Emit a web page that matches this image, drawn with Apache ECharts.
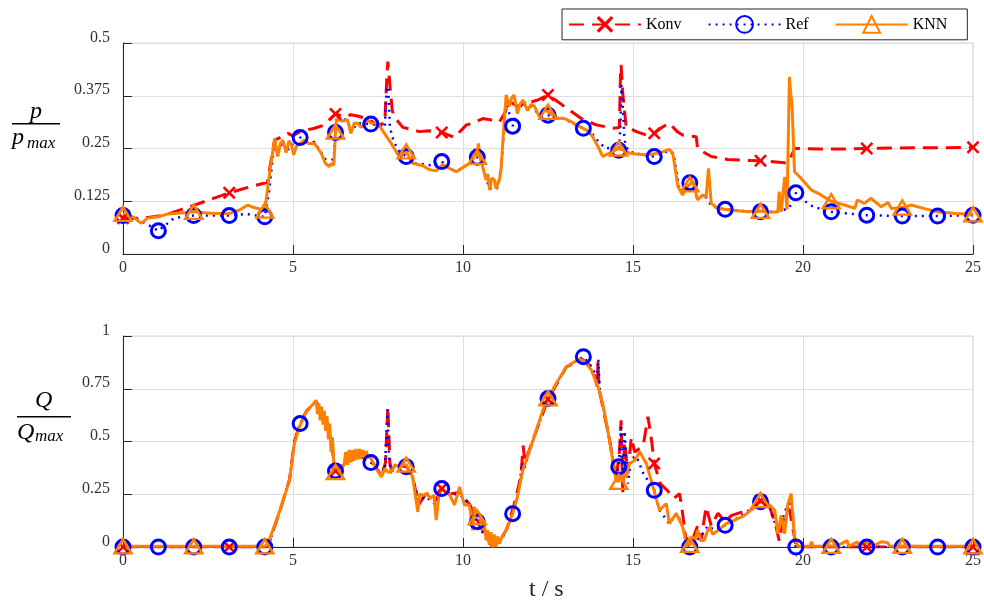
<!DOCTYPE html>
<html><head><meta charset="utf-8">
<script src="https://cdn.jsdelivr.net/npm/echarts@6/dist/echarts.min.js"></script>
<style>html,body{margin:0;padding:0;background:#fff}#c{width:984px;height:605px}</style>
</head><body><div id="c"></div>
<script>
// ---- ticks ----
const tTicks = [0, 5, 10, 15, 20, 25];
const pTicks = [0, 0.125, 0.25, 0.375, 0.5];
const qTicks = [0, 0.25, 0.5, 0.75, 1];
const seriesNames = ['Konv', 'Ref', 'KNN'];

// ---- marker times ----
const konvMarkT = [0, 3.125, 6.25, 9.375, 12.5, 15.625, 18.75, 21.875, 25];
const refMarkT = [0, 1.04, 2.08, 3.125, 4.17, 5.21, 6.25, 7.29, 8.33, 9.375, 10.42, 11.46, 12.5, 13.54, 14.58, 15.625, 16.67, 17.71, 18.75, 19.79, 20.83, 21.875, 22.92, 23.96, 25];
const knnMarkT = [0, 2.08, 4.17, 6.25, 8.33, 10.42, 12.5, 14.58, 16.67, 18.75, 20.83, 22.92, 25];

// ---- p / pmax ----
const konvP = [[0,0.085],[0.6,0.085],[1.22,0.092],[1.7,0.105],[2.1,0.116],[2.6,0.13],[3.125,0.145],[3.6,0.156],[4.06,0.166],[4.25,0.17],[4.35,0.22],[4.46,0.27],[4.6,0.275],[4.85,0.286],[5.0,0.28],[5.2,0.29],[5.63,0.298],[5.9,0.305],[6.25,0.332],[6.5,0.325],[6.7,0.33],[6.9,0.327],[7.2,0.32],[7.5,0.305],[7.7,0.31],[7.76,0.42],[7.79,0.456],[7.85,0.4],[7.92,0.34],[7.98,0.325],[8.23,0.3],[8.72,0.29],[9.0,0.292],[9.375,0.288],[9.75,0.276],[10.1,0.306],[10.3,0.31],[10.58,0.321],[10.8,0.318],[11.07,0.313],[11.2,0.33],[11.37,0.361],[11.6,0.35],[11.86,0.357],[12.2,0.365],[12.5,0.377],[12.8,0.36],[13.13,0.341],[13.5,0.32],[13.92,0.306],[14.41,0.298],[14.6,0.3],[14.63,0.42],[14.65,0.448],[14.7,0.38],[14.8,0.3],[14.9,0.298],[15.1,0.29],[15.39,0.282],[15.625,0.286],[15.85,0.3],[16.07,0.31],[16.3,0.29],[16.46,0.282],[16.86,0.278],[16.9,0.25],[17.0,0.245],[17.3,0.231],[17.79,0.224],[18.3,0.222],[18.75,0.221],[19.2,0.218],[19.46,0.216],[19.6,0.22],[19.75,0.25],[20.5,0.249],[21.2,0.249],[21.875,0.25],[22.6,0.251],[23.3,0.252],[24.2,0.252],[25,0.253]];
const refP = [[0,0.091],[0.5,0.08],[1.04,0.055],[1.5,0.085],[2.08,0.091],[2.6,0.091],[3.125,0.091],[3.6,0.095],[4.17,0.088],[4.3,0.15],[4.46,0.27],[4.55,0.235],[4.7,0.268],[4.8,0.24],[4.95,0.26],[5.1,0.255],[5.21,0.276],[5.4,0.27],[5.63,0.265],[5.83,0.24],[6.07,0.21],[6.2,0.23],[6.25,0.288],[6.3,0.32],[6.6,0.318],[6.7,0.29],[6.9,0.31],[7.29,0.308],[7.5,0.305],[7.7,0.3],[7.75,0.39],[7.8,0.397],[7.85,0.3],[7.95,0.27],[8.1,0.245],[8.33,0.231],[8.6,0.215],[8.9,0.212],[9.1,0.21],[9.375,0.219],[9.6,0.203],[9.8,0.195],[10.04,0.207],[10.29,0.223],[10.42,0.229],[10.6,0.2],[10.78,0.155],[11.0,0.155],[11.12,0.2],[11.27,0.36],[11.46,0.303],[11.6,0.335],[11.76,0.36],[12.0,0.35],[12.25,0.33],[12.5,0.329],[12.8,0.325],[13.1,0.315],[13.54,0.298],[13.8,0.285],[14.0,0.265],[14.2,0.25],[14.4,0.252],[14.58,0.246],[14.63,0.3],[14.66,0.4],[14.7,0.35],[14.75,0.27],[14.85,0.245],[15.0,0.24],[15.3,0.235],[15.625,0.231],[15.9,0.24],[16.07,0.245],[16.2,0.235],[16.35,0.16],[16.5,0.145],[16.67,0.169],[16.9,0.13],[17.1,0.14],[17.3,0.115],[17.5,0.108],[17.71,0.106],[18.2,0.102],[18.75,0.1],[19.2,0.1],[19.4,0.103],[19.6,0.11],[19.79,0.145],[20.0,0.128],[20.3,0.112],[20.83,0.1],[21.3,0.096],[21.875,0.092],[22.4,0.091],[22.92,0.09],[23.5,0.09],[23.96,0.09],[24.5,0.091],[25,0.092]];
const knnP = [[0,0.095],[0.3,0.088],[0.53,0.073],[0.73,0.085],[1.04,0.088],[1.32,0.095],[1.7,0.097],[2.08,0.1],[2.4,0.098],[2.69,0.096],[3.13,0.096],[3.4,0.103],[3.67,0.116],[3.85,0.11],[3.96,0.108],[4.17,0.103],[4.31,0.19],[4.46,0.274],[4.55,0.231],[4.63,0.262],[4.7,0.27],[4.8,0.24],[4.88,0.268],[4.95,0.26],[5.02,0.235],[5.1,0.255],[5.21,0.262],[5.34,0.27],[5.45,0.262],[5.63,0.262],[5.83,0.239],[5.95,0.215],[6.07,0.207],[6.15,0.215],[6.2,0.21],[6.25,0.29],[6.28,0.321],[6.45,0.315],[6.61,0.318],[6.7,0.286],[6.8,0.31],[6.9,0.31],[7.0,0.3],[7.2,0.318],[7.29,0.31],[7.49,0.31],[7.69,0.286],[7.89,0.262],[8.05,0.24],[8.18,0.227],[8.23,0.239],[8.33,0.243],[8.52,0.215],[8.82,0.209],[9.0,0.2],[9.21,0.197],[9.4,0.212],[9.6,0.203],[9.8,0.195],[10.04,0.207],[10.2,0.215],[10.29,0.223],[10.35,0.25],[10.42,0.23],[10.45,0.262],[10.52,0.223],[10.6,0.2],[10.68,0.175],[10.73,0.19],[10.78,0.152],[10.85,0.18],[10.93,0.175],[10.97,0.155],[11.02,0.152],[11.07,0.175],[11.12,0.203],[11.2,0.3],[11.27,0.377],[11.36,0.35],[11.43,0.37],[11.5,0.377],[11.6,0.333],[11.68,0.355],[11.76,0.365],[11.9,0.34],[12.0,0.355],[12.1,0.35],[12.25,0.325],[12.37,0.345],[12.5,0.337],[12.62,0.33],[12.74,0.322],[12.99,0.321],[13.15,0.315],[13.33,0.306],[13.62,0.294],[13.8,0.28],[13.92,0.262],[14.0,0.25],[14.11,0.231],[14.31,0.239],[14.45,0.245],[14.58,0.25],[14.75,0.245],[14.9,0.239],[15.1,0.237],[15.29,0.235],[15.5,0.236],[15.73,0.239],[15.9,0.243],[16.07,0.248],[16.17,0.239],[16.32,0.16],[16.46,0.14],[16.6,0.16],[16.67,0.165],[16.76,0.173],[16.9,0.128],[17.05,0.14],[17.15,0.135],[17.22,0.203],[17.3,0.12],[17.5,0.108],[17.99,0.103],[18.4,0.1],[18.75,0.102],[19.0,0.099],[19.26,0.1],[19.3,0.148],[19.36,0.1],[19.46,0.183],[19.53,0.105],[19.6,0.42],[19.64,0.38],[19.68,0.349],[19.75,0.195],[19.9,0.183],[20.24,0.152],[20.53,0.14],[20.83,0.125],[21.22,0.116],[21.52,0.108],[21.6,0.128],[21.8,0.12],[22.0,0.132],[22.3,0.112],[22.5,0.122],[22.6,0.108],[22.92,0.11],[23.18,0.116],[23.6,0.107],[23.96,0.1],[24.5,0.096],[25,0.094]];

// ---- Q / Qmax ----
const konvQ = [[0,0],[3.125,0],[4.2,0],[4.3,0.02],[4.65,0.19],[4.9,0.32],[5.04,0.5],[5.2,0.58],[5.4,0.645],[5.68,0.69],[5.9,0.62],[6.1,0.52],[6.25,0.36],[6.5,0.39],[6.9,0.43],[7.3,0.41],[7.6,0.34],[7.72,0.4],[7.79,0.665],[7.85,0.4],[7.9,0.36],[8.1,0.38],[8.33,0.385],[8.52,0.33],[8.7,0.2],[8.9,0.25],[9.2,0.22],[9.375,0.277],[9.6,0.25],[9.9,0.26],[10.2,0.2],[10.5,0.1],[10.87,0],[11.1,0.03],[11.3,0.09],[11.5,0.2],[11.7,0.33],[11.77,0.48],[11.82,0.4],[12.06,0.51],[12.5,0.7],[13.04,0.854],[13.5,0.89],[13.8,0.85],[13.95,0.76],[13.97,0.88],[14.0,0.75],[14.31,0.51],[14.5,0.32],[14.6,0.45],[14.65,0.6],[14.7,0.26],[14.75,0.5],[14.85,0.35],[14.95,0.52],[15.05,0.45],[15.3,0.48],[15.44,0.617],[15.55,0.5],[15.625,0.396],[15.8,0.3],[16.0,0.27],[16.2,0.23],[16.37,0.253],[16.45,0.17],[16.57,0.02],[16.67,0],[16.9,0.1],[17.0,0.03],[17.15,0.19],[17.3,0.1],[17.5,0.16],[17.7,0.12],[17.9,0.15],[18.2,0.165],[18.5,0.18],[18.75,0.22],[19.0,0.2],[19.2,0.1],[19.3,0.03],[19.45,0.15],[19.6,0.18],[19.8,0],[20.5,0],[21.875,0],[25,0]];
const refQ = [[0,0],[1.04,0],[2.08,0],[3.125,0],[4.17,0],[4.3,0.02],[4.65,0.19],[4.9,0.32],[5.04,0.5],[5.21,0.585],[5.4,0.645],[5.68,0.69],[5.9,0.62],[6.1,0.52],[6.25,0.36],[6.5,0.39],[6.9,0.43],[7.29,0.4],[7.5,0.37],[7.7,0.36],[7.75,0.55],[7.78,0.65],[7.82,0.45],[7.87,0.35],[8.0,0.39],[8.33,0.38],[8.52,0.33],[8.7,0.22],[8.9,0.24],[9.2,0.2],[9.375,0.277],[9.6,0.25],[9.9,0.25],[10.2,0.2],[10.42,0.12],[10.6,0.06],[10.87,0],[11.07,0.02],[11.27,0.08],[11.46,0.158],[11.6,0.237],[11.75,0.4],[11.8,0.37],[12.06,0.506],[12.5,0.704],[13.04,0.854],[13.54,0.902],[13.8,0.85],[13.95,0.8],[13.98,0.89],[14.02,0.75],[14.31,0.506],[14.5,0.33],[14.58,0.38],[14.65,0.58],[14.7,0.3],[14.75,0.55],[14.85,0.3],[14.95,0.42],[15.1,0.43],[15.3,0.35],[15.625,0.269],[15.78,0.175],[16.07,0.11],[16.3,0.16],[16.46,0.095],[16.67,0],[17.0,0.05],[17.2,0.1],[17.4,0.08],[17.71,0.103],[18.2,0.15],[18.75,0.214],[19.0,0.2],[19.26,0.07],[19.5,0.18],[19.65,0.22],[19.79,0],[20.83,0],[21.875,0],[22.92,0],[23.96,0],[25,0]];
const knnQ = [[0,0.003],[1,0.003],[2.08,0.003],[3.13,0.003],[4.17,0.003],[4.26,0.016],[4.45,0.1],[4.65,0.19],[4.9,0.317],[5.04,0.49],[5.19,0.57],[5.39,0.64],[5.55,0.67],[5.68,0.696],[5.72,0.63],[5.76,0.68],[5.8,0.6],[5.84,0.665],[5.88,0.58],[5.92,0.645],[5.96,0.55],[6.0,0.62],[6.04,0.51],[6.08,0.585],[6.12,0.45],[6.16,0.52],[6.2,0.4],[6.25,0.355],[6.4,0.37],[6.5,0.39],[6.55,0.45],[6.6,0.39],[6.65,0.46],[6.7,0.4],[6.75,0.46],[6.8,0.41],[6.85,0.465],[6.9,0.415],[6.95,0.465],[7.0,0.42],[7.05,0.46],[7.1,0.425],[7.15,0.455],[7.2,0.43],[7.29,0.42],[7.45,0.37],[7.6,0.332],[7.7,0.37],[7.8,0.355],[7.9,0.36],[8.0,0.39],[8.1,0.38],[8.2,0.39],[8.33,0.39],[8.52,0.332],[8.67,0.166],[8.72,0.25],[8.82,0.245],[8.95,0.255],[9.02,0.23],[9.15,0.245],[9.21,0.127],[9.31,0.27],[9.375,0.277],[9.5,0.26],[9.6,0.25],[9.75,0.2],[9.9,0.285],[10.04,0.2],[10.19,0.198],[10.29,0.079],[10.33,0.19],[10.38,0.19],[10.42,0.14],[10.48,0.16],[10.53,0.119],[10.58,0.08],[10.62,0.12],[10.68,0.032],[10.72,0.08],[10.77,0.01],[10.82,0.07],[10.87,0],[10.92,0.06],[10.97,0],[11.02,0.05],[11.07,0.017],[11.15,0.05],[11.27,0.079],[11.46,0.158],[11.6,0.237],[11.76,0.364],[12.06,0.506],[12.35,0.649],[12.5,0.704],[12.74,0.775],[13.04,0.854],[13.28,0.878],[13.45,0.89],[13.6,0.875],[13.77,0.84],[13.97,0.76],[14.11,0.68],[14.31,0.506],[14.5,0.317],[14.58,0.309],[14.65,0.36],[14.7,0.31],[14.73,0.364],[14.8,0.33],[14.9,0.396],[15.05,0.41],[15.2,0.451],[15.39,0.396],[15.59,0.285],[15.7,0.22],[15.78,0.174],[15.98,0.206],[16.07,0.111],[16.27,0.159],[16.46,0.095],[16.57,0.016],[16.67,0.01],[16.75,0.05],[16.8,0.016],[16.9,0.079],[17.0,0.03],[17.1,0.032],[17.2,0.08],[17.25,0.095],[17.35,0.06],[17.5,0.079],[17.74,0.111],[17.99,0.127],[18.28,0.15],[18.58,0.19],[18.75,0.222],[18.97,0.206],[19.17,0.174],[19.26,0.063],[19.36,0.15],[19.46,0.063],[19.55,0.2],[19.65,0.253],[19.75,0.047],[19.85,0.003],[20.2,0.003],[20.25,0.025],[20.3,0.003],[20.83,0.005],[21.0,0.005],[21.3,0.03],[21.35,0.003],[21.6,0.025],[21.65,0.003],[22.0,0.03],[22.05,0.003],[22.3,0.025],[22.5,0.02],[22.55,0.003],[22.92,0.005],[23.5,0.003],[25,0.003]];

// ---- build ----
const FONT = '"Liberation Serif", "Times New Roman", serif';
const colors = { Konv: '#ff0000', Ref: '#0000ff', KNN: '#ff8000' };
const xPath = 'path://M0,1.4L1.4,0L5,3.6L8.6,0L10,1.4L6.4,5L10,8.6L8.6,10L5,6.4L1.4,10L0,8.6L3.6,5Z';

function build(arr, marks) {
  return arr.map(p => marks.some(t => Math.abs(t - p[0]) < 0.003) ? { value: p } : { value: p, symbol: 'none' });
}
const styles = {
  Konv: { lineStyle: { color: colors.Konv, width: 3, type: [15, 8] }, symbol: xPath, symbolSize: 13,
          itemStyle: { color: colors.Konv, borderWidth: 0 } },
  Ref: { lineStyle: { color: colors.Ref, width: 2.5, type: [2, 5] }, symbol: 'circle', symbolSize: 14,
         itemStyle: { color: 'rgba(0,0,0,0)', borderColor: colors.Ref, borderWidth: 3 } },
  KNN: { lineStyle: { color: colors.KNN, width: 3, type: 'solid' }, symbol: 'triangle', symbolSize: [17, 14],
         itemStyle: { color: 'rgba(0,0,0,0)', borderColor: colors.KNN, borderWidth: 2.5 } }
};
function mk(name, data, marks, gi) {
  return Object.assign({ type: 'line', name: name, xAxisIndex: gi, yAxisIndex: gi, data: build(data, marks),
    showSymbol: true, showAllSymbol: true, animation: false, emphasis: { disabled: true }, z: 2 }, styles[name]);
}

function xAx(gi) {
  return { type: 'value', gridIndex: gi, min: tTicks[0], max: tTicks[tTicks.length - 1], interval: tTicks[1] - tTicks[0],
    axisLine: { show: true, onZero: false, lineStyle: { color: '#262626', width: 1 } },
    axisTick: { show: true, inside: true, length: 9, lineStyle: { color: '#262626' } },
    splitLine: { show: true, lineStyle: { color: '#dedede', width: 1 } },
    axisLabel: { fontFamily: FONT, fontSize: 16, color: '#333', margin: 6 } };
}
function yAx(gi, ticks) {
  return { type: 'value', gridIndex: gi, min: ticks[0], max: ticks[ticks.length - 1], interval: ticks[1] - ticks[0],
    axisLine: { show: true, onZero: false, lineStyle: { color: '#262626', width: 1 } },
    axisTick: { show: true, inside: true, length: 9, lineStyle: { color: '#262626' } },
    splitLine: { show: true, lineStyle: { color: '#dedede', width: 1 } },
    axisLabel: { fontFamily: FONT, fontSize: 16, color: '#333', margin: 13, verticalAlign: 'bottom', lineHeight: 11 } };
}

const fracFont = (s) => 'italic ' + s + 'px ' + FONT;
const option = {
  backgroundColor: '#fff',
  animation: false,
  grid: [
    { left: 123, right: 11, top: 43, height: 211, show: true, borderColor: '#d6d6d6', borderWidth: 1 },
    { left: 123, right: 11, top: 336, height: 211, show: true, borderColor: '#d6d6d6', borderWidth: 1 }
  ],
  xAxis: [xAx(0), xAx(1)],
  yAxis: [yAx(0, pTicks), yAx(1, qTicks)],
  legend: {
    data: seriesNames, left: 562, top: 9, orient: 'horizontal',
    itemWidth: 72, itemHeight: 21, itemGap: 26,
    padding: [6, 20, 6, 6], borderColor: '#262626', borderWidth: 1, borderRadius: 0, backgroundColor: '#fff',
    textStyle: { fontFamily: FONT, fontSize: 16, color: '#000' }
  },
  graphic: [
    { type: 'text', left: 30, top: 100, style: { text: 'p', font: fracFont(24), fill: '#000' } },
    { type: 'rect', shape: { x: 12, y: 123, width: 48, height: 1.6 }, style: { fill: '#000' } },
    { type: 'text', left: 12, top: 126, style: { text: 'p', font: fracFont(24), fill: '#000' } },
    { type: 'text', left: 27, top: 135, style: { text: 'max', font: fracFont(17), fill: '#000' } },
    { type: 'text', left: 35, top: 389, style: { text: 'Q', font: fracFont(24), fill: '#000' } },
    { type: 'rect', shape: { x: 17, y: 416, width: 54, height: 1.6 }, style: { fill: '#000' } },
    { type: 'text', left: 17, top: 421, style: { text: 'Q', font: fracFont(24), fill: '#000' } },
    { type: 'text', left: 35, top: 428, style: { text: 'max', font: fracFont(17), fill: '#000' } },
    { type: 'text', left: 529, top: 578, style: { text: 't / s', font: '24px ' + FONT, fill: '#262626' } }
  ],
  series: [
    mk('Konv', konvP, konvMarkT, 0), mk('Ref', refP, refMarkT, 0), mk('KNN', knnP, knnMarkT, 0),
    mk('Konv', konvQ, konvMarkT, 1), mk('Ref', refQ, refMarkT, 1), mk('KNN', knnQ, knnMarkT, 1)
  ]
};
const chart = echarts.init(document.getElementById('c'), null, { renderer: 'canvas' });
chart.setOption(option);
</script></body></html>
